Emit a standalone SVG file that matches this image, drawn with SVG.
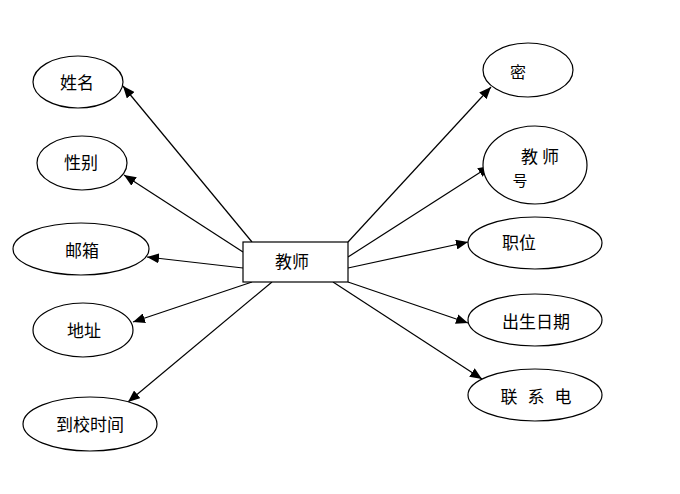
<svg xmlns="http://www.w3.org/2000/svg" width="680" height="494" viewBox="0 0 680 494">
<style>
.n ellipse, .n rect { fill: #fff; stroke: #000; stroke-width: 1.2; }
.t { font-family: "Liberation Sans", "Noto Sans CJK SC", sans-serif; font-size: 17px; fill: #000; text-anchor: middle; }
.c line { stroke: #000; stroke-width: 1.2; marker-end: url(#ah); }
</style>
<defs>
<marker id="ah" markerWidth="13" markerHeight="10" refX="12" refY="5" orient="auto" markerUnits="userSpaceOnUse">
<path d="M0,0 L12,5 L0,10 Z" fill="#000"/>
</marker>
</defs>
<rect width="680" height="494" fill="#fff"/>
<g id="connectors" class="c">
<line x1="252" y1="242" x2="123" y2="86"/>
<line x1="243" y1="252" x2="124" y2="175"/>
<line x1="243" y1="268" x2="147" y2="257"/>
<line x1="252" y1="282" x2="133" y2="322"/>
<line x1="272" y1="282" x2="128" y2="402"/>
<line x1="348" y1="242" x2="491" y2="87"/>
<line x1="348" y1="257" x2="490" y2="166"/>
<line x1="348" y1="268" x2="468" y2="242"/>
<line x1="348" y1="282" x2="468" y2="323"/>
<line x1="333" y1="282" x2="482" y2="379"/>
</g>
<g id="teacher" class="n"><rect x="243" y="242" width="105" height="40"/><text class="t" x="292" y="268">教师</text></g>
<g id="name" class="n"><ellipse cx="78" cy="82" rx="45" ry="26"/><text class="t" x="77" y="89">姓名</text></g>
<g id="gender" class="n"><ellipse cx="82" cy="163" rx="45" ry="27"/><text class="t" x="81" y="169">性别</text></g>
<g id="email" class="n"><ellipse cx="81" cy="249" rx="68" ry="26"/><text class="t" x="82" y="257">邮箱</text></g>
<g id="address" class="n"><ellipse cx="83" cy="330" rx="50" ry="27"/><text class="t" x="84" y="337">地址</text></g>
<g id="arrival" class="n"><ellipse cx="90" cy="424" rx="67" ry="27"/><text class="t" x="90" y="431">到校时间</text></g>
<g id="password" class="n"><ellipse cx="528" cy="70" rx="45" ry="27"/><text class="t" x="518" y="78" style="font-size:16px">密</text></g>
<g id="teacherno" class="n"><ellipse cx="535" cy="165" rx="52" ry="39"/><text class="t" x="542" y="163" style="letter-spacing:4px">教师</text><text class="t" x="520" y="186" style="font-size:15px">号</text></g>
<g id="position" class="n"><ellipse cx="535" cy="243" rx="67" ry="26"/><text class="t" x="519" y="249">职位</text></g>
<g id="birthday" class="n"><ellipse cx="535" cy="320" rx="67" ry="26"/><text class="t" x="536" y="328">出生日期</text></g>
<g id="phone" class="n"><ellipse cx="535" cy="395" rx="67" ry="26"/><text class="t" x="541" y="403" style="letter-spacing:10px">联系电</text></g>
</svg>
